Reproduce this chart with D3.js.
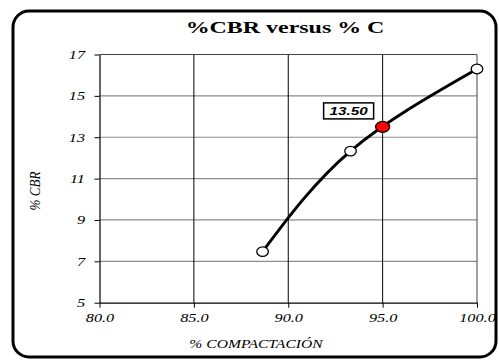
<!DOCTYPE html>
<html>
<head>
<meta charset="utf-8">
<script src="https://cdn.jsdelivr.net/npm/d3@7"></script>
<style>
  html, body { margin: 0; padding: 0; background: #fff; }
  svg { display: block; }
  .serif { font-family: "Liberation Serif", "Times New Roman", Times, "DejaVu Serif", serif; }
  .sans { font-family: "Liberation Sans", Arial, Helvetica, sans-serif; }
</style>
</head>
<body>
<svg id="chart" width="499" height="360"></svg>
<script>
// Compaction (%) vs CBR (%) test points
const compaction = [88.64, 93.3, 100.0];
const cbr = [7.47, 12.33, 16.3];
// CBR read at 95 % compaction
const designCompaction = 95.0;
const designCbr = 13.5;
const xTicks = [80, 85, 90, 95, 100];
const yTicks = [5, 7, 9, 11, 13, 15, 17];

const svg = d3.select("#chart");
// text in this chart is set a little wider than its natural width
const wide = 1.3;

// outer frame
svg.append("rect")
  .attr("x", 13).attr("y", 11).attr("width", 483).attr("height", 346)
  .attr("rx", 16).attr("ry", 16)
  .attr("fill", "#fff").attr("stroke", "#000").attr("stroke-width", 3);

const x = d3.scaleLinear().domain([80, 100]).range([99.5, 477]);
const y = d3.scaleLinear().domain([5, 17]).range([302.7, 54.5]);

// horizontal gridlines
svg.append("g").selectAll("line").data(yTicks.filter(d => d > 5 && d < 17)).join("line")
  .attr("x1", x(80)).attr("x2", x(100))
  .attr("y1", d => y(d)).attr("y2", d => y(d))
  .attr("stroke", "#8c8c8c").attr("stroke-width", 1.2);

// vertical gridlines
svg.append("g").selectAll("line").data(xTicks.filter(d => d > 80 && d < 100)).join("line")
  .attr("x1", d => x(d)).attr("x2", d => x(d))
  .attr("y1", y(17)).attr("y2", y(5))
  .attr("stroke", "#000").attr("stroke-width", 1);

// plot frame (top and right)
svg.append("line").attr("x1", x(80)).attr("x2", x(100)).attr("y1", y(17)).attr("y2", y(17))
  .attr("stroke", "#444").attr("stroke-width", 1);
svg.append("line").attr("x1", x(100)).attr("x2", x(100)).attr("y1", y(17)).attr("y2", y(5))
  .attr("stroke", "#444").attr("stroke-width", 1);

// stretch a text element horizontally by the given factor
function widen(sel, f) {
  sel.each(function () {
    const w = this.getComputedTextLength();
    d3.select(this).attr("textLength", w * f).attr("lengthAdjust", "spacingAndGlyphs");
  });
}

// axes
const xAxis = svg.append("g").attr("transform", `translate(0,${y(5)})`)
  .call(d3.axisBottom(x).tickValues(xTicks).tickFormat(d3.format(".1f")).tickSizeInner(5).tickSizeOuter(0));
const yAxis = svg.append("g").attr("transform", `translate(${x(80)},0)`)
  .call(d3.axisLeft(y).tickValues(yTicks).tickFormat(d3.format("d")).tickSizeInner(5).tickSizeOuter(0).tickPadding(9.5));
[xAxis, yAxis].forEach(a => {
  a.attr("font-family", null).attr("font-size", null).attr("class", "serif");
  a.select(".domain").attr("stroke", "#000").attr("stroke-width", 1.2);
  a.selectAll(".tick line").attr("stroke", "#000");
  a.selectAll("text").style("font-style", "italic").style("font-size", "12.5px").attr("fill", "#000");
});
xAxis.selectAll("text").attr("y", 19.3).attr("dy", 0);
yAxis.selectAll("text").attr("dy", 3.8);
widen(xAxis.selectAll("text"), wide);
widen(yAxis.selectAll("text"), wide);

// fitted curve through the test points
const pts = compaction.map((c, i) => [c, cbr[i]]);
svg.append("path")
  .datum(pts)
  .attr("fill", "none").attr("stroke", "#000").attr("stroke-width", 3)
  .attr("d", d3.line().x(d => x(d[0])).y(d => y(d[1])).curve(d3.curveNatural));

// test point markers
svg.append("g").selectAll("ellipse").data(pts).join("ellipse")
  .attr("cx", d => x(d[0])).attr("cy", d => y(d[1]))
  .attr("rx", 5.8).attr("ry", 4.8)
  .attr("fill", "#fff").attr("stroke", "#000").attr("stroke-width", 1.3);

// design point
svg.append("ellipse")
  .attr("cx", x(designCompaction)).attr("cy", y(designCbr))
  .attr("rx", 7).attr("ry", 5.5)
  .attr("fill", "#ff0000").attr("stroke", "#000").attr("stroke-width", 1.3);

// value label box
const lbl = svg.append("g").attr("transform", `translate(${x(designCompaction) - 34},${y(designCbr) - 16})`);
lbl.append("rect").attr("x", -25).attr("y", -8).attr("width", 50).attr("height", 16)
  .attr("fill", "#fff").attr("stroke", "#000").attr("stroke-width", 1.5);
lbl.append("text").attr("class", "sans").attr("text-anchor", "middle").attr("y", 4)
  .style("font-weight", "bold").style("font-style", "italic").style("font-size", "10.5px")
  .text(designCbr.toFixed(2))
  .call(widen, 1.45);

// title
svg.append("text").attr("class", "serif").attr("x", 285).attr("y", 33).attr("text-anchor", "middle")
  .style("font-weight", "bold").style("font-size", "16.5px")
  .text("%CBR versus % C")
  .call(widen, 1.45);

// axis titles
svg.append("text").attr("class", "serif").attr("x", 256).attr("y", 348).attr("text-anchor", "middle")
  .style("font-style", "italic").style("font-size", "13px")
  .text("% COMPACTACIÓN")
  .call(widen, 1.2);
svg.append("text").attr("class", "serif").attr("transform", "translate(40,191) rotate(-90)").attr("text-anchor", "middle")
  .style("font-style", "italic").style("font-size", "15px")
  .text("% CBR")
  .attr("textLength", 39).attr("lengthAdjust", "spacingAndGlyphs");
</script>
</body>
</html>
